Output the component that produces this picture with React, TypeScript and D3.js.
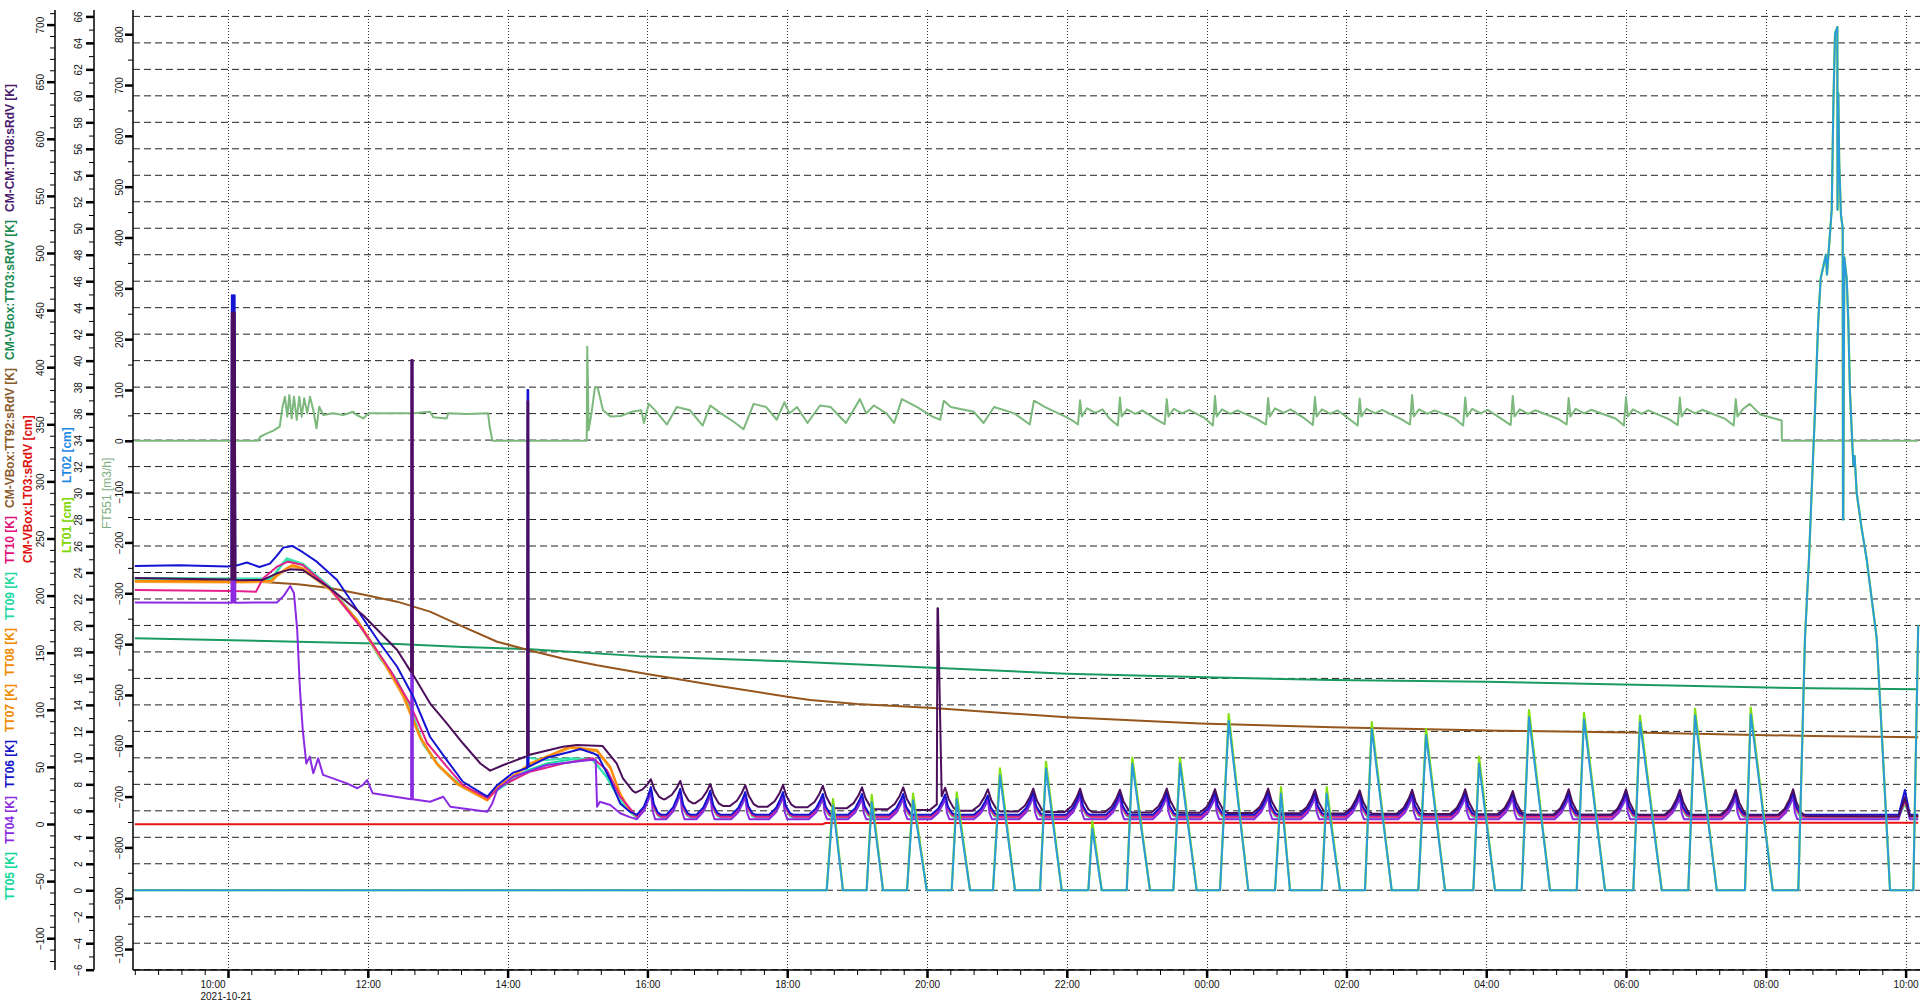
import React, { useEffect, useRef } from "react";
import * as d3 from "d3";

type Pt = [number, number];

const FONT = "'Liberation Sans', Arial, Helvetica, sans-serif";
const BASE = new Date(2021, 9, 21, 0, 0, 0).getTime();
const toDate = (h: number) => new Date(BASE + h * 3600000);

const START_H = 8 + 40 / 60;
const END_H = 34.18;

// ---------- slow channels (hours since 2021-10-21 00:00, value) ----------
const tt92: Pt[] = [
  [8.667, 213.7], [10.5, 212], [11.0, 210], [11.46, 206.6], [11.93, 201], [12.42, 194.7],
  [12.89, 186], [13.36, 172.8], [13.85, 159.6], [14.32, 152], [14.79, 145], [15.28, 139],
  [15.89, 132.5], [17.0, 121], [18.0, 111.5], [18.33, 108.6], [19.0, 105], [20.09, 101.6],
  [21.04, 97.5], [22.0, 93.5], [23.9, 88], [25.8, 84.7], [28.2, 81.7], [30.3, 80],
  [32.67, 77], [34.18, 76],
];
const tt03: Pt[] = [
  [8.667, 162.6], [10.99, 159.6], [12.42, 157.6], [13.36, 155], [14.32, 153], [15.89, 147],
  [18.0, 142.5], [20.0, 137], [22.0, 131.6], [24.0, 128.5], [25.8, 126], [28.0, 124.5],
  [30.3, 121.7], [32.67, 118.8], [34.18, 118],
];
const lt03: Pt[] = [[8.667, -0.3], [18.5, -0.3], [18.55, 0.9], [34.18, 1.2]];

// ---------- temperatures before the cycling regime ----------
const tt06Pre: Pt[] = [
  [8.667, 226], [9.3, 226.5], [9.99, 225.5], [10.05, 226], [10.055, 463], [10.065, 300], [10.075, 463],
  [10.085, 300], [10.095, 463], [10.105, 226],
  [10.27, 229], [10.45, 225], [10.6, 228], [10.7, 235], [10.79, 242], [10.92, 243.5], [11.07, 238],
  [11.27, 229.7], [11.56, 213.7], [11.85, 187.4], [12.17, 158.5], [12.42, 137.7], [12.65, 111.5],
  [12.89, 76.4], [13.13, 56], [13.36, 37], [13.71, 23.9], [13.85, 34], [14.08, 45], [14.28, 49],
  [14.285, 380], [14.295, 380], [14.3, 50], [14.56, 58], [14.94, 64], [15.04, 65.7], [15.22, 62],
  [15.29, 60], [15.47, 38.5], [15.61, 18], [15.75, 10.8],
];
const tt09Pre: Pt[] = [
  [8.667, 214.5], [10.06, 214.5], [10.063, 370], [10.08, 370], [10.085, 214.5], [10.62, 214.5],
  [10.7, 222], [10.8, 230], [10.84, 232.7], [11.07, 228], [11.46, 207.8], [11.85, 178.6],
  [12.17, 146.5], [12.42, 126], [12.6, 102.7], [12.63, 100], [12.632, 128], [12.64, 128],
  [12.642, 96], [12.79, 70.7], [13.03, 50], [13.36, 32.7], [13.71, 23.9], [13.85, 30],
  [14.28, 47.3], [14.29, 58], [14.56, 56], [14.9, 57.5], [15.2, 57], [15.42, 41.4], [15.61, 21],
  [15.75, 10.8],
];
const tt05Pre: Pt[] = [
  [8.667, 215.5], [10.06, 215], [10.062, 360], [10.085, 360], [10.087, 215], [10.62, 215],
  [10.7, 221], [10.8, 229], [10.84, 231.5], [11.07, 227], [11.46, 206.5], [11.85, 177.5],
  [12.17, 145.5], [12.42, 125], [12.6, 101.5], [12.79, 70], [13.03, 49.5], [13.36, 32],
  [13.71, 23.5], [13.85, 29.5], [14.28, 47], [14.56, 53], [14.9, 56.5], [15.22, 56.5],
  [15.42, 40.5], [15.61, 20.5], [15.75, 10.5],
];
const tt10Pre: Pt[] = [
  [8.667, 205], [10.06, 204], [10.062, 430], [10.09, 430], [10.092, 204], [10.4, 203.4],
  [10.5, 215], [10.7, 225.3], [10.86, 229.7], [11.07, 226.8], [11.46, 206.4], [11.93, 169.9],
  [12.32, 134.9], [12.6, 105.7], [12.85, 70.7], [13.13, 50.2], [13.36, 34], [13.72, 22.5],
  [13.89, 32.7], [14.32, 45.8], [14.79, 53], [15.22, 57.5], [15.42, 47.3], [15.61, 23.9],
  [15.79, 10.8],
];
const tt07Pre: Pt[] = [
  [8.667, 213], [10.06, 212], [10.062, 430], [10.09, 430], [10.092, 212], [10.62, 213],
  [10.7, 218], [10.84, 224], [10.92, 226.8], [11.07, 223.9], [11.46, 206.4], [11.85, 178.6],
  [12.22, 143.6], [12.5, 114.4], [12.75, 76.4], [12.99, 53], [13.28, 35.6], [13.71, 21],
  [13.85, 32], [14.32, 53], [14.89, 67.7], [15.28, 64.8], [15.47, 50], [15.61, 26.9], [15.75, 12],
];
const tt08Pre: Pt[] = [
  [8.667, 212], [10.06, 211.5], [10.062, 425], [10.09, 425], [10.092, 211.5], [10.62, 212],
  [10.7, 217], [10.84, 223], [10.92, 225.5], [11.07, 222.5], [11.46, 205], [11.85, 177],
  [12.22, 142], [12.5, 112], [12.75, 75], [12.99, 52], [13.28, 34.5], [13.71, 20.5],
  [13.85, 31], [14.32, 52], [14.89, 66.5], [15.28, 63.5], [15.47, 48.5], [15.61, 25.5], [15.75, 11.5],
];
const tt04Pre: Pt[] = [
  [8.667, 194], [10.05, 193.8], [10.055, 440], [10.065, 194], [10.075, 440], [10.085, 194],
  [10.095, 440], [10.105, 193.8], [10.7, 194],
  [10.8, 200], [10.89, 208.4], [10.944, 202], [10.99, 170], [11.03, 117], [11.07, 82],
  [11.12, 53], [11.17, 59], [11.22, 44.4], [11.29, 57.5], [11.36, 43], [11.7, 35.6],
  [11.85, 31.3], [11.93, 34.2], [11.99, 38.5], [12.07, 26.9], [12.62, 21.6], [12.625, 406],
  [12.64, 406], [12.645, 21.6], [12.89, 19.5], [13.08, 23.9], [13.18, 15.1], [13.71, 10.8],
  [13.78, 18], [13.85, 29.8], [14.08, 41.4], [14.56, 51.7], [15.18, 56], [15.26, 56],
  [15.28, 15.1], [15.32, 19.5], [15.47, 16.6], [15.61, 9.4], [15.75, 6],
];
const cmPre: Pt[] = [
  [8.667, 215.5], [9.5, 214.5], [10.05, 214], [10.055, 448], [10.065, 214], [10.075, 448],
  [10.085, 214], [10.095, 448], [10.105, 213.5],
  [10.5, 213.7], [10.7, 219.5], [10.89, 223], [11.07, 222.4], [11.46, 206.4], [11.93, 183],
  [12.42, 152.4], [12.62, 133], [12.625, 406], [12.64, 406], [12.645, 131], [12.89, 105.7],
  [13.13, 88.2], [13.36, 70.7], [13.61, 53], [13.75, 46.7], [13.94, 51.7], [14.28, 59.5],
  [14.285, 370], [14.295, 370], [14.3, 60.4], [14.79, 67.7], [14.99, 69.2], [15.36, 68.3],
  [15.56, 53], [15.65, 40], [15.79, 29],
];
const cmSpike: Pt[] = [[20.15, 189], [20.157, 189]];

// ---------- cycling regime ----------
const cyclePeaks = [
  16.05, 16.47, 16.9, 17.4, 17.94, 18.51, 19.07, 19.66, 20.26, 20.87, 21.52, 22.19, 22.76,
  23.43, 24.12, 24.88, 25.55, 26.19, 26.94, 27.7, 28.38, 29.18, 30.0, 30.77, 31.57, 32.39,
];
const cmFirstTrough = 27.4;
const cmPeak = [
  39.1, 37.7, 35.0, 34.1, 34.1, 33.5, 32.1, 32.1, 31.8, 30.4, 31, 31, 30, 31, 30.5, 31, 30,
  29.5, 30, 30.5, 28.9, 30.4, 30.4, 29.8, 29.8, 30.4,
];
const cmTrough = [
  21.6, 18.1, 15.8, 15.2, 14.6, 13.7, 12.9, 12.3, 11.7, 11.0, 10.5, 10.2, 10.0, 9.8, 9.6, 9.4,
  9.2, 9.0, 8.8, 8.6, 8.2, 8.0, 7.9, 7.8, 7.7, 7.0,
];
const bundlePeak = [
  29.8, 28.3, 26.9, 25.4, 25.4, 23.9, 23.9, 23.9, 23.4, 22.5, 25.5, 25.5, 25, 25.5, 25, 25.5,
  25, 25, 25, 25, 24.5, 25, 25, 24.5, 24.5, 25,
];

// FT551 flow, read directly up to 22.1 h
const ft551Read: Pt[] = [
  [8.667, 0], [10.43, 0], [10.46, 8], [10.55, 14], [10.65, 20], [10.74, 27.7], [10.78, 67],
  [10.815, 86.8], [10.848, 47.5], [10.877, 90], [10.911, 44], [10.944, 86.8], [10.983, 41],
  [11.02, 86.8], [11.054, 47.5], [11.09, 83.6], [11.134, 54], [11.173, 86.8], [11.22, 60.6],
  [11.266, 24.6], [11.305, 67], [11.363, 50.8], [11.506, 54], [11.649, 50.8], [11.79, 57.3],
  [11.84, 50.8], [11.936, 44], [12.007, 54], [12.27, 54], [12.65, 54], [12.89, 57.3],
  [12.937, 46.2], [13.128, 44], [13.15, 54], [13.41, 52.8], [13.72, 54], [13.745, 26.6],
  [13.783, 0], [15.132, 0], [15.14, 185], [15.16, 21], [15.2, 54], [15.25, 106], [15.29, 104],
  [15.365, 60], [15.475, 47.6], [15.62, 48.9], [15.77, 57], [15.913, 60], [15.95, 35],
  [16.02, 72.7], [16.13, 57], [16.28, 32], [16.42, 66.4], [16.61, 60], [16.79, 29.8],
  [16.9, 69.5], [17.05, 53.9], [17.23, 38], [17.375, 22.6], [17.52, 72.7], [17.7, 66.4],
  [17.85, 41.4], [17.96, 75.8], [18.03, 53.9], [18.14, 66.4], [18.29, 35], [18.47, 69.5],
  [18.62, 66.4], [18.84, 35], [19.04, 82], [19.13, 53.9], [19.24, 69.5], [19.42, 53.9],
  [19.53, 35], [19.64, 82], [19.86, 66.4], [20.08, 47.6], [20.19, 41.4], [20.24, 79],
  [20.34, 66.4], [20.67, 57], [20.81, 35], [20.96, 66.4], [21.25, 53.9], [21.47, 32],
  [21.53, 79], [21.69, 66.4], [21.98, 47.6], [22.1, 38],
];
// FT551 per-cycle levels for cycles 12..25 (spike, hump, dip)
const ftSpike = [80, 85, 82, 88, 84, 86, 83, 90, 85, 88, 84, 86, 85, 82];
const ftHump = [64, 62, 63, 62, 64, 62, 63, 62, 63, 62, 63, 62, 63, 62];
const ftDip = [32, 30, 33, 30, 32, 31, 30, 32, 30, 31, 32, 30, 31, 30];
const ftEnd: Pt[] = [[31.77, 72.6], [31.92, 51.7], [32.2, 41], [32.227, 40], [32.23, 0], [34.18, 0]];

// LT01 / LT02 level pulses
const ltRise = [
  18.565, 19.137, 19.714, 20.353, 20.944, 21.617, 22.308, 22.857, 23.524, 24.192, 24.979,
  25.647, 26.266, 27.029, 27.816, 28.508, 29.295, 30.104, 30.891, 31.702,
];
const ltPeakT = [
  18.655, 19.209, 19.8, 20.425, 21.044, 21.702, 22.365, 22.937, 23.619, 24.316, 25.064,
  25.718, 26.362, 27.139, 27.897, 28.612, 29.399, 30.2, 30.987, 31.784,
];
const ltFall = [
  18.798, 19.371, 19.996, 20.615, 21.259, 21.927, 22.499, 23.19, 23.858, 24.597, 25.193,
  25.908, 26.648, 27.411, 28.126, 28.913, 29.7, 30.511, 31.298, 32.099,
];
const lt02Peak = [6.4, 6.66, 6.8, 6.9, 8.66, 9.2, 4.64, 9.55, 9.55, 12.8, 7.3, 7.3, 12.2, 11.7, 9.55, 13.07, 12.9, 12.7, 13.2, 13.3];
const lt01Peak = [6.9, 7.2, 7.3, 7.4, 9.2, 9.7, 5.2, 10.0, 10.0, 13.3, 7.8, 7.8, 12.7, 12.2, 10.1, 13.6, 13.4, 13.2, 13.7, 13.8];
const ltBig: Pt[] = [
  [32.465, 0], [32.56, 19], [32.62, 25.3], [32.655, 30], [32.702, 36], [32.75, 43], [32.785, 46.2],
  [32.83, 47.3], [32.86, 48], [32.875, 46.5], [32.908, 48.9], [32.943, 51.4], [32.966, 59.2],
  [32.99, 64.7], [33.023, 65.2], [33.026, 51.4], [33.037, 60.2], [33.05, 55], [33.075, 51],
  [33.1, 50], [33.104, 28], [33.108, 28], [33.123, 47.8], [33.157, 46.2], [33.18, 43],
  [33.204, 37.6], [33.252, 32.1], [33.27, 32.8], [33.3, 30], [33.372, 27.3], [33.443, 25],
  [33.587, 19], [33.777, 0], [34.11, 0], [34.18, 20],
];

// axis tick values
const kMajor = d3.range(-100, 701, 50);
const kMinor = d3.range(-120, 711, 10);
const cmMajor = d3.range(-6, 67, 2);
const cmMinor = d3.range(-6, 67, 1);
const flowMajor = d3.range(-1000, 801, 100);
const flowMinor = d3.range(-1000, 841, 50);

const bundle = [
  { key: "TT05", color: "#19dc9c", pre: tt05Pre, off: -2, trough: 5.6, bump: 18, fast: false },
  { key: "TT09", color: "#3de6b0", pre: tt09Pre, off: -1.5, trough: 6.0, bump: 19, fast: false },
  { key: "TT08", color: "#f2a53a", pre: tt08Pre, off: -1, trough: 6.6, bump: 20, fast: false },
  { key: "TT07", color: "#ff8c00", pre: tt07Pre, off: -0.5, trough: 6.8, bump: 20, fast: false },
  { key: "TT10", color: "#e3208c", pre: tt10Pre, off: 0, trough: 6.4, bump: 21, fast: false },
  { key: "TT04", color: "#8a2be2", pre: tt04Pre, off: -1, trough: 4.2, bump: 24, fast: true },
  { key: "TT06", color: "#1414d2", pre: tt06Pre, off: 2.5, trough: 8, bump: 29.8, fast: false },
];

const legend1 = [
  { t: "TT05 [K]", c: "#10d89a" },
  { t: "TT04 [K]", c: "#8a2be2" },
  { t: "TT06 [K]", c: "#1414c8" },
  { t: "TT07 [K]", c: "#f08a00" },
  { t: "TT08 [K]", c: "#f08a00" },
  { t: "TT09 [K]", c: "#20d8a0" },
  { t: "TT10 [K]", c: "#e0107a" },
  { t: "CM-VBox:TT92:sRdV [K]", c: "#8b5a2b" },
  { t: "CM-VBox:TT03:sRdV [K]", c: "#1a8a50" },
  { t: "CM-CM:TT08:sRdV [K]", c: "#4b1a6e" },
];

function bundleCycles(off: number, trough: number, fast: boolean): Pt[] {
  const out: Pt[] = [];
  cyclePeaks.forEach((p, i) => {
    const pk = bundlePeak[i] + off;
    const d = pk - trough;
    out.push([p - 0.2, trough], [p - 0.1, trough + d * 0.3], [p - 0.04, trough + d * 0.68], [p, pk]);
    if (fast) out.push([p + 0.025, trough + d * 0.3], [p + 0.06, trough]);
    else out.push([p + 0.04, trough + d * 0.4], [p + 0.1, trough + d * 0.08], [p + 0.15, trough]);
  });
  return out;
}

function cmCycles(): Pt[] {
  const out: Pt[] = [];
  cyclePeaks.forEach((p, i) => {
    const before = i === 0 ? cmFirstTrough : cmTrough[i - 1];
    const pk = cmPeak[i];
    const after = cmTrough[i];
    out.push(
      [p - 0.22, before], [p - 0.12, before + (pk - before) * 0.25], [p - 0.05, before + (pk - before) * 0.62],
      [p, pk], [p + 0.05, after + (pk - after) * 0.5], [p + 0.12, after + (pk - after) * 0.12], [p + 0.18, after]
    );
  });
  return out;
}

function ftCycles(): Pt[] {
  const out: Pt[] = [];
  for (let j = 0; j < ftSpike.length; j++) {
    const i = 11 + j;
    const p = cyclePeaks[i];
    const n = cyclePeaks[i + 1];
    out.push([p - 0.03, ftDip[j]], [p, ftSpike[j]], [p + 0.025, 48], [p + 0.1, ftHump[j]]);
    if (j < ftSpike.length - 1) {
      out.push([p + 0.22, ftHump[j] - 9], [p + 0.32, ftHump[j] - 2], [n - 0.15, ftDip[j] + 12]);
    }
  }
  return out;
}

function ltPulses(peaks: number[]): Pt[] {
  const out: Pt[] = [[START_H, 0]];
  ltRise.forEach((r, i) => {
    out.push([r, 0], [ltPeakT[i], peaks[i]], [ltFall[i], 0]);
  });
  return out.concat(ltBig);
}

const byTime = (a: Pt, b: Pt) => a[0] - b[0];

export default function App() {
  const ref = useRef<SVGSVGElement>(null);

  useEffect(() => {
    document.body.style.margin = "0";
    const svg = d3.select(ref.current);
    svg.selectAll("*").remove();

    const top = 10;
    const bottom = 970;
    const left = 133;
    const right = 1920;

    const x = d3.scaleTime().domain([toDate(START_H), toDate(END_H)]).range([134.8, 1918.2]);
    const yK = d3.scaleLinear().domain([0, 700]).range([824, 24.6]);
    const yCm = d3.scaleLinear().domain([-6, 66]).range([969.7, 16.4]);
    const yFlow = d3.scaleLinear().domain([0, 800]).range([440.8, 34.2]);

    svg.append("rect").attr("width", 1920).attr("height", 1008).attr("fill", "#fff");

    svg.append("defs").append("clipPath").attr("id", "plotclip")
      .append("rect").attr("x", left).attr("y", top).attr("width", right - left).attr("height", bottom - top);

    // grid
    const grid = svg.append("g");
    grid.selectAll(".hg").data(cmMajor).join("line")
      .attr("x1", left).attr("x2", right)
      .attr("y1", (d) => yCm(d)).attr("y2", (d) => yCm(d))
      .attr("stroke", "#222").attr("stroke-width", 1).attr("stroke-dasharray", "7,4");
    const hourTicks = x.ticks(d3.timeHour.every(2) as d3.TimeInterval);
    grid.selectAll(".vg").data(hourTicks).join("line")
      .attr("x1", (d) => Math.round(x(d)) + 0.5).attr("x2", (d) => Math.round(x(d)) + 0.5)
      .attr("y1", top).attr("y2", bottom)
      .attr("stroke", "#333").attr("stroke-width", 1).attr("stroke-dasharray", "1,2");

    // series
    const plot = svg.append("g").attr("clip-path", "url(#plotclip)");
    const lineOn = (scale: d3.ScaleLinear<number, number>) =>
      d3.line<Pt>().x((d) => x(toDate(d[0]))).y((d) => scale(d[1]));
    const draw = (data: Pt[], scale: d3.ScaleLinear<number, number>, color: string, w = 2) =>
      plot.append("path").datum(data).attr("d", lineOn(scale))
        .attr("fill", "none").attr("stroke", color).attr("stroke-width", w)
        .attr("stroke-linejoin", "round");

    const ft551 = ft551Read.concat(ftCycles(), ftEnd).sort(byTime);
    draw(ft551, yFlow, "#7db87d", 2);
    draw(tt03, yK, "#1a9a60", 2);
    draw(tt92, yK, "#96561d", 2);
    draw(lt03, yK, "#e81414", 2);

    bundle.forEach((s) => {
      const tail: Pt[] = [[33.9, s.trough], [33.99, s.bump], [34.06, s.trough], [END_H, s.trough]];
      const data = s.pre.concat(bundleCycles(s.off, s.trough, s.fast), tail).sort(byTime);
      draw(data, yK, s.color, 2);
    });

    const cmTail: Pt[] = [[33.9, 6.5], [33.99, 22.8], [34.06, 7], [END_H, 7]];
    const cm = cmPre.concat(cmCycles(), cmSpike, cmTail).sort(byTime);
    draw(cm, yK, "#4b0f5c", 2);

    draw(ltPulses(lt01Peak), yCm, "#84e010", 2.2);
    draw(ltPulses(lt02Peak), yCm, "#2c9cd8", 2);

    // left axes
    const leftAxis = (
      scale: d3.ScaleLinear<number, number>, xPos: number, majors: number[], minors: number[], off: number
    ) => {
      const inRange = (v: number) => scale(v) >= top - 0.5 && scale(v) <= bottom + 0.5;
      const gMin = svg.append("g").attr("transform", `translate(${xPos},0)`)
        .call(d3.axisLeft(scale).tickValues(minors.filter(inRange)).tickSize(5).tickFormat(() => ""));
      gMin.select(".domain").remove();
      gMin.selectAll("line").attr("stroke", "#000").attr("stroke-width", 1);
      const gMaj = svg.append("g").attr("transform", `translate(${xPos},0)`)
        .attr("font-family", FONT).attr("font-size", 10)
        .call(d3.axisLeft(scale).tickValues(majors).tickSize(8).tickFormat(d3.format("d")));
      gMaj.select(".domain").remove();
      gMaj.selectAll("line").attr("stroke", "#000").attr("stroke-width", 2.5);
      gMaj.selectAll("text")
        .attr("transform", "rotate(-90)").attr("x", 0).attr("y", -off).attr("dy", null)
        .attr("text-anchor", "middle").attr("dominant-baseline", "central").attr("fill", "#111");
      svg.append("line").attr("x1", xPos).attr("x2", xPos).attr("y1", top).attr("y2", bottom)
        .attr("stroke", "#000").attr("stroke-width", 1.5);
    };
    leftAxis(yK, 55, kMajor, kMinor, 15);
    leftAxis(yCm, 94, cmMajor, cmMinor, 16);
    leftAxis(yFlow, 133, flowMajor, flowMinor, 14);

    // bottom axis
    const gxMin = svg.append("g").attr("transform", `translate(0,${bottom})`)
      .call(d3.axisBottom(x).ticks(d3.timeMinute.every(20) as d3.TimeInterval).tickSize(5).tickFormat(() => ""));
    gxMin.select(".domain").remove();
    gxMin.selectAll("line").attr("stroke", "#000").attr("stroke-width", 1);
    const gx = svg.append("g").attr("transform", `translate(0,${bottom})`)
      .attr("font-family", FONT).attr("font-size", 11)
      .call(d3.axisBottom(x).ticks(d3.timeHour.every(2) as d3.TimeInterval).tickSize(8)
        .tickFormat((d) => d3.timeFormat("%H:%M")(d as Date)));
    gx.select(".domain").remove();
    gx.selectAll("line").attr("stroke", "#000").attr("stroke-width", 2.5);
    gx.selectAll("text").attr("fill", "#111");
    const first = +toDate(10);
    gx.selectAll<SVGGElement, Date>(".tick").each(function (d) {
      if (+d === first) {
        const g = d3.select(this);
        g.select("text").attr("text-anchor", "start").attr("x", -28);
        g.append("text").attr("x", -28).attr("y", 23).attr("dy", "0.71em")
          .attr("text-anchor", "start").attr("fill", "#111").text("2021-10-21");
      }
    });
    svg.append("line").attr("x1", left).attr("x2", right).attr("y1", bottom).attr("y2", bottom)
      .attr("stroke", "#000").attr("stroke-width", 1.5);

    // axis titles (vertical)
    const vtitle = (cx: number, y0: number, bold: boolean) =>
      svg.append("text").attr("transform", `translate(${cx},${y0}) rotate(-90)`)
        .attr("dominant-baseline", "central").attr("font-family", FONT)
        .attr("font-size", 12).attr("font-weight", bold ? "bold" : "normal");

    const t1 = vtitle(10, 900, true);
    legend1.forEach((l, i) => {
      t1.append("tspan").attr("dx", i === 0 ? 0 : 8).attr("fill", l.c).text(l.t);
    });
    vtitle(28, 563, true).attr("fill", "#e01010").text("CM-VBox:LT03:sRdV [cm]");
    vtitle(67, 553, true).attr("fill", "#7cd400").text("LT01 [cm]");
    vtitle(67, 483, true).attr("fill", "#1e88e5").text("LT02 [cm]");
    vtitle(107, 529, false).attr("fill", "#80b080").text("FT551 [m3/h]");
  }, []);

  return <svg ref={ref} width={1920} height={1008} style={{ display: "block" }} />;
}
